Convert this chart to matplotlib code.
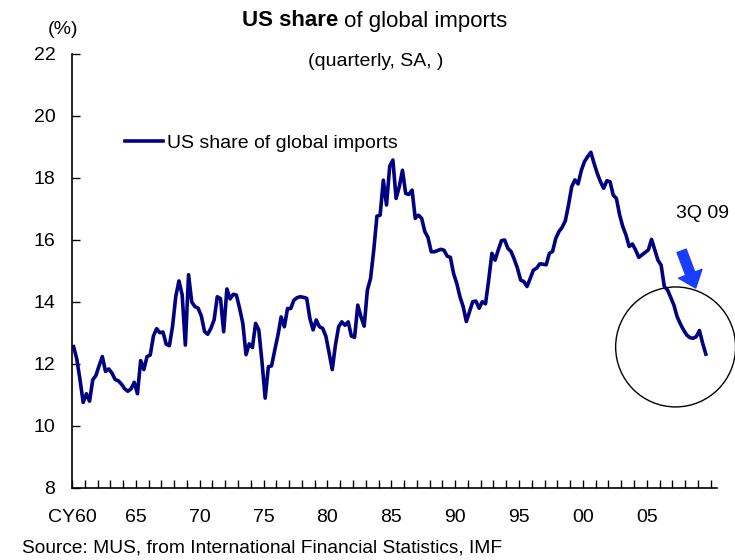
import matplotlib
matplotlib.use("Agg")
import matplotlib.pyplot as plt
from matplotlib import font_manager
from matplotlib.lines import Line2D
from matplotlib.patches import Ellipse
import numpy as np

# US share of global imports, quarterly (%), 1Q60 - 3Q09
share_1960s = [12.56, 12.16, 11.50, 10.76,
               11.04, 10.80, 11.49, 11.63,
               11.95, 12.24, 11.76, 11.84,
               11.71, 11.50, 11.46, 11.35,
               11.20, 11.12, 11.20, 11.41,
               11.04, 12.11, 11.82, 12.24,
               12.29, 12.90, 13.14, 13.01,
               13.03, 12.64, 12.59, 13.22,
               14.18, 14.68, 14.23, 12.61,
               14.88, 14.00, 13.85, 13.80]
share_1970s = [13.55, 13.05, 12.96, 13.15,
               13.42, 14.17, 14.11, 13.04,
               14.42, 14.10, 14.25, 14.22,
               13.79, 13.31, 12.30, 12.65,
               12.53, 13.31, 13.10, 12.07,
               10.90, 11.91, 11.94, 12.45,
               12.93, 13.52, 13.20, 13.79,
               13.79, 14.06, 14.14, 14.17,
               14.15, 14.12, 13.47, 13.10,
               13.42, 13.20, 13.15, 12.90]
share_1980s = [12.37, 11.82, 12.61, 13.20,
               13.36, 13.25, 13.36, 12.90,
               12.86, 13.90, 13.52, 13.22,
               14.38, 14.76, 15.67, 16.77,
               16.80, 17.93, 17.13, 18.38,
               18.58, 17.34, 17.72, 18.25,
               17.50, 17.47, 17.61, 16.70,
               16.80, 16.70, 16.27, 16.08,
               15.62, 15.62, 15.66, 15.70,
               15.67, 15.48, 15.44, 14.92]
share_1990s = [14.60, 14.17, 13.85, 13.37,
               13.69, 14.01, 14.03, 13.80,
               14.01, 13.94, 14.71, 15.57,
               15.35, 15.68, 15.98, 16.00,
               15.73, 15.63, 15.38, 15.09,
               14.71, 14.66, 14.50, 14.76,
               15.03, 15.09, 15.23, 15.22,
               15.20, 15.57, 15.63, 16.05,
               16.27, 16.41, 16.62, 17.13,
               17.72, 17.94, 17.81, 18.24]
share_2000s = [18.53, 18.69, 18.83, 18.47,
               18.15, 17.88, 17.67, 17.91,
               17.88, 17.45, 17.34, 16.81,
               16.43, 16.16, 15.79, 15.87,
               15.68, 15.44, 15.52, 15.60,
               15.68, 16.02, 15.68, 15.35,
               15.19, 14.50, 14.39, 14.15,
               13.90, 13.53, 13.30, 13.10,
               12.94, 12.85, 12.83, 12.88,
               13.08, 12.67, 12.32]

start_year = 1960
year_labels = ["CY60", "65", "70", "75", "80", "85", "90", "95", "00", "05"]
y_ticks = [8, 10, 12, 14, 16, 18, 20, 22]

# annotation around the latest quarter
last_label = "3Q 09"
circle_center = (2007.26, 12.55)
circle_size = (9.39, 3.87)
arrow_tail = (2007.73, 15.65)
arrow_tip = (2008.83, 14.45)
label_pos = (2009.37, 16.87)

share = np.array(share_1960s + share_1970s + share_1980s + share_1990s + share_2000s)
quarters = start_year + (np.arange(len(share)) + 0.5) / 4  # plotted mid-quarter

# Arial Narrow look-alike if it is there
names = {f.name for f in font_manager.fontManager.ttflist}
if "Liberation Sans Narrow" in names:
    plt.rcParams["font.family"] = ["Liberation Sans Narrow", "DejaVu Sans"]
    fs, fs_src, fs_title = 17, 16.8, 19.5
else:
    plt.rcParams["font.family"] = ["Liberation Sans", "DejaVu Sans"]
    fs, fs_src, fs_title = 14, 13.8, 16

W, H = 735, 560
fig = plt.figure(figsize=(W / 100, H / 100), dpi=100)
ax = fig.add_axes([72 / W, 1 - 488 / H, 645 / W, 434 / H])

line_color = "#000080"
ax.plot(quarters, share, color=line_color, lw=2.6, solid_joinstyle="round")

ax.set_xlim(1960, 2010.5)
ax.set_ylim(8, 22)
ax.set_yticks(y_ticks)
ax.set_yticklabels([str(t) for t in y_ticks])
ax.set_xticks(np.arange(1960, 2011, 1), minor=True)
ax.set_xticks(np.arange(1960, 2010, 5))
ax.set_xticklabels(year_labels)

for side in ["top", "right"]:
    ax.spines[side].set_visible(False)
for side in ["left", "bottom"]:
    ax.spines[side].set_linewidth(1.2)

ax.tick_params(axis="both", which="both", direction="in", width=1, labelsize=fs)
ax.tick_params(axis="y", length=6, pad=12)
ax.tick_params(axis="x", which="major", length=6, pad=15)
ax.tick_params(axis="x", which="minor", length=6)

# circle + arrow + label
circ = Ellipse(circle_center, circle_size[0], circle_size[1], fill=False,
               ec="black", lw=1.0, clip_on=False)
ax.add_patch(circ)
ax.annotate("", xy=arrow_tip, xytext=arrow_tail, annotation_clip=False,
            arrowprops=dict(arrowstyle="simple,head_length=0.55,head_width=0.9,tail_width=0.35",
                            color="#1a3cff", mutation_scale=20, shrinkA=0, shrinkB=0))
ax.text(label_pos[0], label_pos[1], last_label, ha="center", va="center", fontsize=fs)

# legend
em = fs * 100 / 72
handle = Line2D([], [], color=line_color, lw=2.6)
ax.legend([handle], ["US share of global imports"], loc="center left",
          bbox_to_anchor=(125 / W, 1 - 143 / H), bbox_transform=fig.transFigure,
          frameon=False, borderpad=0, borderaxespad=0, fontsize=fs,
          handlelength=38 / em, handletextpad=4 / em)

# titles and notes
fig.text(338 / W, 1 - 26.5 / H, "US share", fontsize=fs_title, weight="bold",
         ha="right", va="baseline")
fig.text(338 / W, 1 - 26.5 / H, " of global imports", fontsize=fs_title,
         ha="left", va="baseline")
fig.text(376 / W, 1 - 62 / H, "(quarterly, SA, )", fontsize=fs, ha="center", va="center")
fig.text(63 / W, 1 - 30 / H, "(%)", fontsize=fs, ha="center", va="center")
fig.text(22 / W, 1 - 548 / H, "Source: MUS, from International Financial Statistics, IMF",
         fontsize=fs_src, ha="left", va="center")

fig.savefig("out.png", dpi=100)
